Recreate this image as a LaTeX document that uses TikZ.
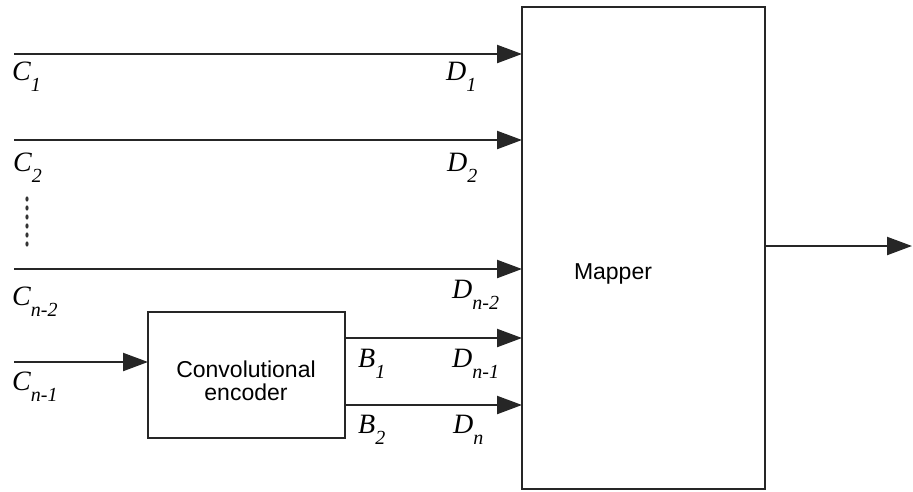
\documentclass[tikz,border=0pt]{standalone}
\usepackage{fontspec}
\setmainfont{Liberation Serif}
\newfontfamily\sansf{Liberation Sans}
\usetikzlibrary{arrows.meta}
\newcommand{\sym}[2]{#1\raisebox{-11pt}{\fontsize{20}{20}\selectfont #2}}
\begin{document}
\begin{tikzpicture}[x=1pt,y=-1pt,
  ln/.style={draw=black!85, line width=2.2pt},
  arr/.style={ln, -{Triangle[length=25pt,width=18pt]}},
  blk/.style={draw=black!85, line width=2.6pt, inner sep=0pt, outer sep=0pt, anchor=north west},
  lab/.style={font=\fontsize{28}{28}\selectfont\itshape, anchor=base west, inner sep=0pt},
  stxt/.style={font=\fontsize{23}{24}\selectfont\sansf, inner sep=0pt}]
\useasboundingbox (0,0) rectangle (913,491);
% blocks
\node[blk, minimum width=243pt, minimum height=482pt] (map) at (522,7) {};
\node[stxt, anchor=base] (mtxt) at (613,279) {Mapper};
\node[blk, minimum width=197pt, minimum height=126pt] (enc) at (148,312) {};
\node[stxt, anchor=base] (etxt1) at (246,377) {Convolutional};
\node[stxt, anchor=base] (etxt2) at (246,400) {encoder};
% input coordinates
\coordinate (c1) at (14,54);
\coordinate (c2) at (14,140);
\coordinate (c3) at (14,269);
\coordinate (c4) at (14,362);
\coordinate (b1) at (345,338);
\coordinate (b2) at (345,405);
\coordinate (out) at (912,246);
% connectors
\draw[arr] (c1) -- (c1 -| map.west);
\draw[arr] (c2) -- (c2 -| map.west);
\draw[arr] (c3) -- (c3 -| map.west);
\draw[arr] (c4) -- (c4 -| enc.west);
\draw[arr] (b1) -- (b1 -| map.west);
\draw[arr] (b2) -- (b2 -| map.west);
\draw[arr] (out -| map.east) -- (out);
% vertical dots
\foreach \yy in {199,208,217,226,235,244}
  \fill[black!80] (27,\yy) ellipse (1.6pt and 2.6pt);
% labels
\node[lab] (lc1) at (12,80) {\sym{C}{1}};
\node[lab] (ld1) at (446,80) {\sym{D}{1}};
\node[lab] (lc2) at (13,171) {\sym{C}{2}};
\node[lab] (ld2) at (447,171) {\sym{D}{2}};
\node[lab] (lc3) at (12,305) {\sym{C}{n-2}};
\node[lab] (ld3) at (452,298) {\sym{D}{n-2}};
\node[lab] (lc4) at (12,390) {\sym{C}{n-1}};
\node[lab] (lb1) at (358,367) {\sym{B}{1}};
\node[lab] (ld4) at (452,367) {\sym{D}{n-1}};
\node[lab] (lb2) at (358,433) {\sym{B}{2}};
\node[lab] (ld5) at (453,433) {\sym{D}{n}};
\end{tikzpicture}
\end{document}
